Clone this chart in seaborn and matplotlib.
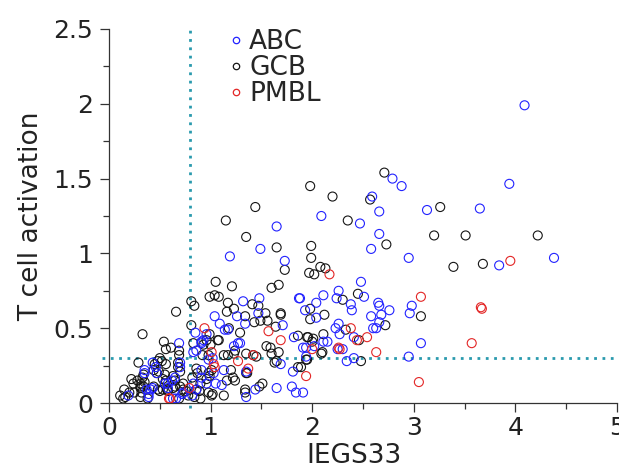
import numpy as np
import pandas as pd
import matplotlib
matplotlib.use("Agg")
import matplotlib.pyplot as plt
from matplotlib.ticker import MultipleLocator, FuncFormatter
from matplotlib.lines import Line2D
import seaborn as sns

# ---------------- data ----------------
abc_x = [4.09, 3.94, 3.65, 3.84, 4.38,
         2.79, 2.88, 2.59, 2.09, 2.47, 2.66, 3.13, 2.66, 2.58, 2.95,
         2.48, 2.51, 2.26, 2.24, 2.11, 2.04, 1.88, 1.93, 2.04,
         2.38, 2.39, 2.65, 2.66, 2.76, 2.68, 2.58, 2.98, 2.96,
         2.26, 2.23, 2.66, 2.63, 2.60, 2.27, 2.41, 2.11, 2.15,
         1.91, 1.94, 2.30, 2.25, 3.07, 2.41, 2.34, 2.95, 1.91,
         1.65, 1.49, 1.73, 1.19, 1.32, 1.48, 1.87, 1.26, 1.04, 1.09,
         1.34, 1.47, 1.17, 1.14, 1.71, 0.85, 0.96, 0.91, 1.82, 0.69,
         0.83, 0.86, 0.93, 0.91, 0.98, 1.02, 1.23, 1.27, 1.29, 1.13,
         1.35, 1.69, 1.81, 1.94, 1.80, 1.84, 1.65, 1.44, 1.35,
         1.05, 1.11, 0.96, 1.03, 0.91, 0.91, 0.83, 0.86, 0.82,
         0.73, 0.72, 0.66, 0.63, 0.65, 0.62, 0.58, 0.55, 0.58,
         0.70, 0.70, 0.43, 0.46, 0.47, 0.35, 0.35, 0.19, 0.37, 0.39, 0.39, 0.41, 0.43, 2.02]
abc_y = [1.99, 1.465, 1.30, 0.92, 0.97,
         1.50, 1.45, 1.38, 1.25, 1.20, 1.28, 1.29, 1.13, 1.03, 0.97,
         0.81, 0.71, 0.75, 0.70, 0.72, 0.67, 0.70, 0.62, 0.57,
         0.66, 0.62, 0.67, 0.65, 0.62, 0.59, 0.58, 0.65, 0.60,
         0.53, 0.50, 0.54, 0.50, 0.50, 0.46, 0.44, 0.41, 0.41,
         0.37, 0.37, 0.36, 0.36, 0.40, 0.30, 0.28, 0.31, 0.07,
         1.18, 1.03, 0.95, 0.98, 0.68, 0.70, 0.70, 0.58, 0.58, 0.53,
         0.53, 0.60, 0.49, 0.49, 0.52, 0.47, 0.46, 0.41, 0.44, 0.40,
         0.34, 0.35, 0.42, 0.40, 0.29, 0.30, 0.38, 0.40, 0.40, 0.22,
         0.21, 0.26, 0.21, 0.31, 0.11, 0.07, 0.10, 0.09, 0.04,
         0.13, 0.12, 0.13, 0.20, 0.22, 0.17, 0.13, 0.09, 0.05,
         0.07, 0.06, 0.03, 0.03, 0.17, 0.15, 0.13, 0.13, 0.10,
         0.27, 0.24, 0.27, 0.24, 0.20, 0.22, 0.20, 0.05, 0.09, 0.06, 0.04, 0.09, 0.10, 0.38]

gcb_x = [4.22, 3.68, 2.71, 1.98, 2.20, 2.57, 2.35, 3.26, 2.73, 3.20, 3.51, 3.39,
         1.99, 1.99, 2.08, 2.13, 1.97, 2.02, 2.45, 2.30, 1.98, 2.12, 1.98,
         3.07, 2.33, 2.72, 2.46, 2.11, 1.95, 2.01, 2.00, 2.10, 2.48, 1.94, 1.89,
         1.44, 1.15, 1.35, 1.65, 1.73, 1.05, 1.21, 1.60, 1.67, 0.99, 1.04, 1.08,
         1.17, 0.81, 0.84, 0.66, 1.41, 1.47, 1.23, 1.16, 1.34, 1.43, 1.49, 1.54, 1.56,
         1.18, 1.64, 1.69, 0.81, 0.99, 1.07, 1.08, 1.29, 1.86, 1.96, 0.54, 0.33,
         0.56, 0.61, 0.69, 0.69, 0.83, 0.96, 1.00, 0.93, 0.98, 0.92,
         1.13, 1.17, 1.24, 1.23, 1.35, 1.42, 1.45, 1.20, 1.22, 1.24, 1.35, 1.36,
         1.55, 1.59, 1.60, 1.65, 1.67, 1.63, 1.86, 1.95, 1.51, 1.48, 1.34, 1.34,
         1.13, 1.01, 1.02, 0.98, 1.16, 0.98, 1.01, 0.99, 0.96, 0.90, 0.86, 0.89, 0.90, 0.84,
         0.86, 0.87, 0.82, 0.73, 0.70, 0.73, 0.76, 0.78, 0.69, 0.63, 0.65, 0.63, 0.58, 0.65,
         0.55, 0.53, 0.56, 0.55, 0.57, 0.50, 0.48, 0.52, 0.56, 0.68, 0.68, 0.70,
         0.45, 0.44, 0.47, 0.49, 0.29, 0.34, 0.33, 0.28, 0.31, 0.35, 0.34, 0.31,
         0.22, 0.24, 0.25, 0.20, 0.15, 0.16, 0.11, 0.14, 0.31, 0.32, 0.31, 0.38,
         0.44, 0.48, 0.50, 0.53, 1.69, 2.09]
gcb_y = [1.12, 0.93, 1.54, 1.45, 1.38, 1.36, 1.22, 1.31, 1.06, 1.12, 1.12, 0.91,
         1.05, 0.97, 0.91, 0.90, 0.87, 0.86, 0.73, 0.69, 0.63, 0.59, 0.56,
         0.58, 0.49, 0.52, 0.42, 0.46, 0.44, 0.43, 0.41, 0.34, 0.28, 0.29, 0.24,
         1.31, 1.22, 1.11, 1.04, 0.89, 0.81, 0.78, 0.77, 0.79, 0.71, 0.72, 0.71,
         0.67, 0.68, 0.65, 0.61, 0.66, 0.65, 0.63, 0.61, 0.58, 0.54, 0.55, 0.60, 0.55,
         0.50, 0.51, 0.59, 0.52, 0.46, 0.42, 0.42, 0.47, 0.45, 0.44, 0.41, 0.46,
         0.36, 0.37, 0.35, 0.32, 0.40, 0.42, 0.39, 0.39, 0.32, 0.32,
         0.32, 0.32, 0.35, 0.33, 0.33, 0.32, 0.31, 0.22, 0.17, 0.15, 0.20, 0.20,
         0.38, 0.37, 0.33, 0.28, 0.34, 0.27, 0.24, 0.29, 0.13, 0.11, 0.09, 0.07,
         0.05, 0.05, 0.06, 0.07, 0.15, 0.20, 0.22, 0.18, 0.16, 0.13, 0.09, 0.08, 0.03, 0.04,
         0.23, 0.20, 0.17, 0.13, 0.11, 0.09, 0.08, 0.05, 0.03, 0.18, 0.15, 0.10, 0.08, 0.11,
         0.19, 0.16, 0.15, 0.13, 0.09, 0.30, 0.28, 0.28, 0.26, 0.27, 0.24, 0.21,
         0.26, 0.22, 0.20, 0.21, 0.27, 0.19, 0.17, 0.15, 0.13, 0.14, 0.11, 0.10,
         0.16, 0.13, 0.07, 0.07, 0.09, 0.04, 0.05, 0.03, 0.11, 0.07, 0.04, 0.03,
         0.11, 0.09, 0.08, 0.09, 0.60, 0.33]

pmbl_x = [3.95, 3.67, 2.17, 3.07, 3.66, 2.38, 2.44, 2.54, 2.00, 2.26, 2.27, 2.63, 3.57, 1.94, 3.05,
          0.94, 1.57, 1.69, 1.01, 1.42, 1.27, 1.03, 1.04, 1.37, 0.79, 0.60, 0.59]
pmbl_y = [0.95, 0.63, 0.86, 0.71, 0.64, 0.50, 0.42, 0.44, 0.36, 0.37, 0.36, 0.34, 0.40, 0.18, 0.14,
          0.50, 0.48, 0.42, 0.34, 0.32, 0.28, 0.26, 0.24, 0.23, 0.10, 0.03, 0.03]

groups = ["ABC", "GCB", "PMBL"]
colors = {"ABC": "#2222ff", "GCB": "#151515", "PMBL": "#e32626"}
x_cut = 0.8     # vertical threshold
y_cut = 0.3     # horizontal threshold

df = pd.concat([
    pd.DataFrame({"IEGS33": gcb_x, "T": gcb_y, "group": "GCB"}),
    pd.DataFrame({"IEGS33": abc_x, "T": abc_y, "group": "ABC"}),
    pd.DataFrame({"IEGS33": pmbl_x, "T": pmbl_y, "group": "PMBL"}),
], ignore_index=True)

# ---------------- figure ----------------
sns.set_style("ticks")
plt.rcParams["font.family"] = ["DejaVu Sans"]

fig = plt.figure(figsize=(6.19, 4.69), dpi=100)
ax = fig.add_axes([109 / 619, 66 / 469, 508 / 619, 374 / 469])

sns.scatterplot(data=df, x="IEGS33", y="T", hue="group", palette=colors,
                s=42, linewidth=0.8, legend=False, ax=ax, zorder=3)
coll = ax.collections[0]
fc = coll.get_facecolors()
coll.set_edgecolors(fc)
coll.set_facecolors("none")

teal = "#2a9aae"
ax.plot([x_cut, x_cut], [-0.035, 2.5], ls=(0, (1, 2)), lw=2.0, color=teal,
        clip_on=False, zorder=2)
ax.plot([-0.07, 4.97], [y_cut, y_cut], ls=(0, (1, 2)), lw=2.0, color=teal,
        clip_on=False, zorder=2)

ax.set_xlim(0, 5)
ax.set_ylim(0, 2.5)
ax.xaxis.set_major_locator(MultipleLocator(1))
ax.xaxis.set_minor_locator(MultipleLocator(0.5))
ax.yaxis.set_major_locator(MultipleLocator(0.5))
ax.yaxis.set_minor_locator(MultipleLocator(0.25))
fmt = FuncFormatter(lambda v, p: f"{v:g}")
ax.xaxis.set_major_formatter(fmt)
ax.yaxis.set_major_formatter(fmt)

for s in ["top", "right"]:
    ax.spines[s].set_visible(False)
for s in ["left", "bottom"]:
    ax.spines[s].set_color("#333333")
    ax.spines[s].set_linewidth(0.9)

ax.tick_params(which="major", direction="out", length=6.5, width=0.9,
               color="#333333", labelsize=18, labelcolor="#222222", pad=5)
ax.tick_params(which="minor", direction="out", length=4, width=0.9, color="#333333")
ax.tick_params(axis="x", which="major", pad=3)

ax.set_xlabel("IEGS33", fontsize=19, color="#222222")
ax.set_ylabel("T cell activation", fontsize=19, color="#222222")
ax.xaxis.set_label_coords((354 - 109) / 508, -0.108)
ax.yaxis.set_label_coords(-0.128, 0.5)

handles = [Line2D([], [], marker="o", ls="", mfc="none", mec=colors[g],
                  ms=4.6, mew=0.9) for g in groups]
ax.legend(handles, groups, loc="upper left", bbox_to_anchor=(0.2396, 0.999),
          frameon=False, fontsize=19, handlelength=0.4, handletextpad=0.3,
          labelspacing=0.0, borderpad=0, borderaxespad=0)

fig.savefig("out.png", dpi=100)
